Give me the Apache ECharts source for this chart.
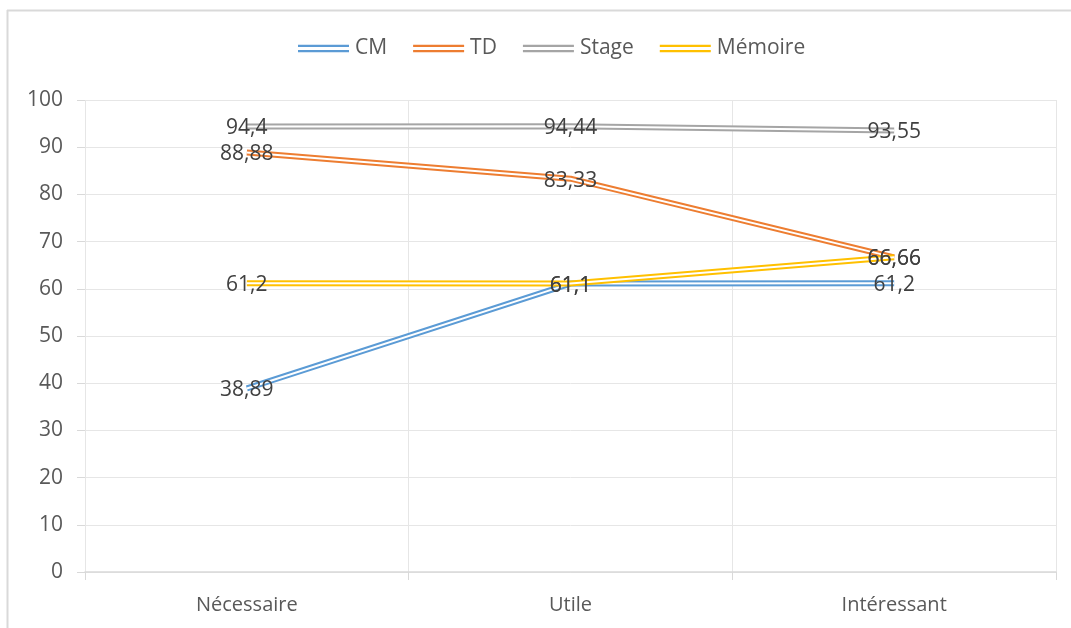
<!DOCTYPE html>
<html>
<head>
<meta charset="utf-8">
<script src="https://cdn.jsdelivr.net/npm/echarts@6/dist/echarts.min.js"></script>
<style>html,body{margin:0;padding:0;background:#fff;}#c{width:1071px;height:628px;}</style>
</head>
<body>
<div id="c"></div>
<script>
var categories = ['Nécessaire', 'Utile', 'Intéressant'];
var cm = [38.89, 61.1, 61.2];
var td = [88.88, 83.33, 66.66];
var stage = [94.4, 94.44, 93.55];
var memoire = [61.2, 61.1, 66.66];
var seriesNames = ['CM', 'TD', 'Stage', 'Mémoire'];
var colors = ['#5B9BD5', '#ED7D31', '#A5A5A5', '#FFC000'];
var yTicks = [0, 10, 20, 30, 40, 50, 60, 70, 80, 90, 100];

var FONT = 'Open Sans';
var datas = [cm, td, stage, memoire];
var series = [];
datas.forEach(function (d, i) {
  series.push({
    name: seriesNames[i], type: 'line', data: d, symbol: 'none',
    lineStyle: { color: colors[i], width: 6 },
    itemStyle: { color: colors[i] },
    z: 2 + i * 2,
    label: { show: false }
  });
  series.push({
    name: seriesNames[i] + '_inner', type: 'line', data: d, symbol: 'none', silent: true,
    lineStyle: { color: '#ffffff', width: 2 },
    z: 3 + i * 2,
    label: { show: false }
  });
});
datas.forEach(function (d, i) {
  series.push({
    name: seriesNames[i] + '_lbl', type: 'line', data: d, symbol: 'circle', symbolSize: 0.1,
    showSymbol: true,
    lineStyle: { color: 'transparent', width: 0 }, itemStyle: { color: 'transparent' }, silent: true, z: 20,
    label: {
      show: true, position: 'inside', offset: [0, 2], color: '#404040', fontFamily: FONT, fontSize: 21,
      formatter: function (p) { return String(p.value).replace('.', ','); }
    }
  });
});

var chart = echarts.init(document.getElementById('c'), null, { renderer: 'canvas' });
chart.setOption({
  animation: false,
  backgroundColor: '#ffffff',
  color: colors,
  textStyle: { fontFamily: FONT },
  legend: {
    data: seriesNames.map(function (n, i) {
      return { name: n, icon: 'path://M0,0H50V2.2H0Z M0,5H50V7.2H0Z', itemStyle: { color: colors[i] } };
    }),
    top: 38, left: 298, itemWidth: 51, itemHeight: 8, itemGap: 26, padding: 0,
    textStyle: { color: '#595959', fontSize: 21, fontFamily: FONT, padding: [0, 0, 0, 1] }
  },
  grid: { left: 85, right: 15, top: 100, bottom: 56, containLabel: false },
  xAxis: {
    type: 'category', data: categories, boundaryGap: true,
    axisLine: { lineStyle: { color: '#D9D9D9', width: 1.5 } },
    axisTick: { show: true, length: 8, lineStyle: { color: '#D9D9D9' } },
    splitLine: { show: true, lineStyle: { color: '#E6E6E6', width: 1 } },
    axisLabel: { color: '#595959', fontSize: 20, fontFamily: FONT, margin: 23 }
  },
  yAxis: {
    type: 'value', min: yTicks[0], max: yTicks[yTicks.length - 1], interval: 10,
    axisLine: { show: false },
    axisTick: { show: true, length: 8, lineStyle: { color: '#D9D9D9' } },
    splitLine: { show: true, lineStyle: { color: '#E6E6E6', width: 1 } },
    axisLabel: { color: '#595959', fontSize: 21, fontFamily: FONT, margin: 22 }
  },
  graphic: [
    { type: 'line', shape: { x1: 7, y1: 10.5, x2: 1071, y2: 10.5 }, style: { stroke: '#D9D9D9', lineWidth: 2 }, silent: true },
    { type: 'line', shape: { x1: 7.5, y1: 10, x2: 7.5, y2: 628 }, style: { stroke: '#D9D9D9', lineWidth: 2 }, silent: true }
  ],
  series: series
});
</script>
</body>
</html>
